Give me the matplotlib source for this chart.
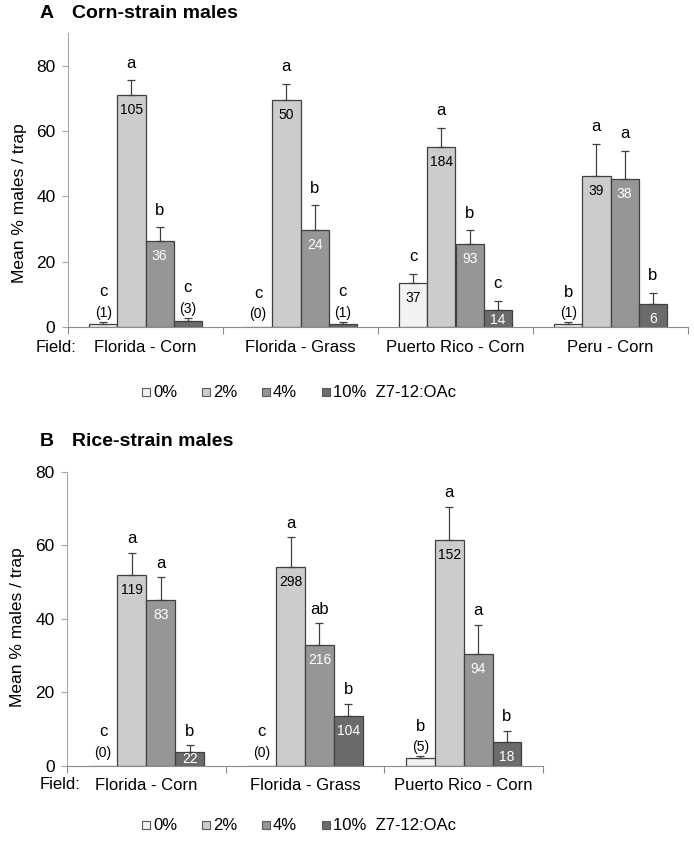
import numpy as np
import matplotlib
matplotlib.use('Agg')
import matplotlib.pyplot as plt
from matplotlib.lines import Line2D

plt.rcParams['font.family'] = ['Liberation Sans', 'DejaVu Sans']

doses = ['0%', '2%', '4%', '10%']
dose_colors = ['#f2f2f2', '#cccccc', '#969696', '#6b6b6b']
count_colors = ['black', 'black', 'white', 'white']
edge = '#404040'

# A: corn-strain males
fields_a = ['Florida - Corn', 'Florida - Grass', 'Puerto Rico - Corn', 'Peru - Corn']
mean_a_0 = [1.0, 0.0, 13.5, 0.8]
mean_a_2 = [71.0, 69.6, 55.1, 46.2]
mean_a_4 = [26.3, 29.6, 25.4, 45.3]
mean_a_10 = [1.9, 0.9, 5.3, 6.9]
err_a_0 = [0.6, 0.0, 2.8, 0.7]
err_a_2 = [4.5, 4.9, 5.9, 9.9]
err_a_4 = [4.3, 7.6, 4.2, 8.6]
err_a_10 = [0.9, 0.7, 2.8, 3.6]
n_a_0 = ['(1)', '(0)', '37', '(1)']
n_a_2 = ['105', '50', '184', '39']
n_a_4 = ['36', '24', '93', '38']
n_a_10 = ['(3)', '(1)', '14', '6']
let_a_0 = ['c', 'c', 'c', 'b']
let_a_2 = ['a', 'a', 'a', 'a']
let_a_4 = ['b', 'b', 'b', 'a']
let_a_10 = ['c', 'c', 'c', 'b']

# B: rice-strain males
fields_b = ['Florida - Corn', 'Florida - Grass', 'Puerto Rico - Corn']
mean_b_0 = [0.0, 0.0, 2.0]
mean_b_2 = [51.8, 54.2, 61.5]
mean_b_4 = [45.1, 32.9, 30.4]
mean_b_10 = [3.65, 13.4, 6.5]
err_b_0 = [0.0, 0.0, 0.6]
err_b_2 = [6.1, 8.0, 8.9]
err_b_4 = [6.2, 5.9, 7.9]
err_b_10 = [1.95, 3.4, 3.0]
n_b_0 = ['(0)', '(0)', '(5)']
n_b_2 = ['119', '298', '152']
n_b_4 = ['83', '216', '94']
n_b_10 = ['22', '104', '18']
let_b_0 = ['c', 'c', 'b']
let_b_2 = ['a', 'a', 'a']
let_b_4 = ['a', 'ab', 'a']
let_b_10 = ['b', 'b', 'b']

compound = 'Z7-12:OAc'

W, H = 694, 843
fig = plt.figure(figsize=(W / 100, H / 100), dpi=100)


def draw_panel(ax, fields, means, errs, counts, letters, ymax, letter_gap, ylab_y, field_xy):
    n = len(fields)
    x = np.arange(n) + 0.5
    w = 0.182
    ax.set_xlim(0, n)
    ax.set_ylim(0, ymax)
    ppu = ax.bbox.height / ymax
    for j in range(4):
        xs = x + (j - 1.5) * w
        ax.bar(xs, means[j], w, color=dose_colors[j], edgecolor=edge, linewidth=0.9, zorder=2)
        for i in range(n):
            m, e = means[j][i], errs[j][i]
            if e > 0:
                ax.errorbar([xs[i]], [m], yerr=[[0], [e]], fmt='none', ecolor=edge,
                            elinewidth=0.9, capsize=2.8, capthick=0.9, zorder=3)
            top_px = (m + e) * ppu
            lab = counts[j][i]
            if lab.startswith('('):
                lab_px = max(top_px + 9, 13)
                ax.annotate(lab, (xs[i], 0), xytext=(0, lab_px), textcoords='offset pixels',
                            ha='center', va='center', fontsize=10)
                let_px = lab_px + 21
            else:
                in_px = max(m * ppu - 15, 7)
                ax.annotate(lab, (xs[i], 0), xytext=(0, in_px), textcoords='offset pixels',
                            ha='center', va='center', fontsize=10, color=count_colors[j])
                let_px = top_px + letter_gap
            ax.annotate(letters[j][i], (xs[i], 0), xytext=(0, let_px), textcoords='offset pixels',
                        ha='center', va='center', fontsize=12)

    for s in ['top', 'right']:
        ax.spines[s].set_visible(False)
    ax.spines['left'].set_color('#a6a6a6')
    ax.spines['bottom'].set_color('#8c8c8c')
    ax.set_xticks(np.arange(n + 1))
    ax.set_xticklabels([])
    ax.tick_params(axis='x', which='major', length=5, color='#8c8c8c', direction='out')
    ax.set_xticks(x, minor=True)
    ax.set_xticklabels(fields, minor=True, fontsize=12)
    ax.tick_params(axis='x', which='minor', length=0, pad=9)
    ax.set_yticks([0, 20, 40, 60, 80])
    ax.tick_params(axis='y', length=4, color='#a6a6a6', labelsize=12.5, pad=5)
    ax.set_ylabel('Mean % males / trap', fontsize=12.5, va='center')
    ax.yaxis.set_label_coords(ylab_y[0], ylab_y[1])
    ax.annotate('Field:', (0, 0), xycoords='axes fraction', xytext=field_xy,
                textcoords='offset pixels', ha='left', va='center', fontsize=12)


def add_legend(y):
    handles = [Line2D([], [], linestyle='none', marker='s', markersize=5.5,
                      markerfacecolor=c, markeredgecolor='#595959', markeredgewidth=0.8)
               for c in dose_colors]
    labels = doses[:-1] + [doses[-1] + '  ' + compound]
    fig.legend(handles, labels, loc='center', bbox_to_anchor=(299 / W, y),
               ncol=4, frameon=False, fontsize=12, handlelength=0.45, handletextpad=0.2,
               columnspacing=1.5, borderaxespad=0, borderpad=0)


ax_a = fig.add_axes([68 / W, 1 - 327 / H, 620 / W, 294 / H])
draw_panel(ax_a, fields_a,
           [mean_a_0, mean_a_2, mean_a_4, mean_a_10],
           [err_a_0, err_a_2, err_a_4, err_a_10],
           [n_a_0, n_a_2, n_a_4, n_a_10],
           [let_a_0, let_a_2, let_a_4, let_a_10],
           90, 17, (-48 / 620, 0.42), (-32, -21))
add_legend(1 - 393 / H)

ax_b = fig.add_axes([67 / W, 1 - 765.7 / H, 476 / W, 294 / H])
draw_panel(ax_b, fields_b,
           [mean_b_0, mean_b_2, mean_b_4, mean_b_10],
           [err_b_0, err_b_2, err_b_4, err_b_10],
           [n_b_0, n_b_2, n_b_4, n_b_10],
           [let_b_0, let_b_2, let_b_4, let_b_10],
           80, 14, (-49 / 476, 0.47), (-27, -19))
add_legend(1 - 826 / H)

fig.text(40 / W, 1 - 13 / H, 'A', fontsize=14, weight='bold', va='center')
fig.text(72 / W, 1 - 13 / H, 'Corn-strain males', fontsize=14, weight='bold', va='center')
fig.text(40 / W, 1 - 442 / H, 'B', fontsize=14, weight='bold', va='center')
fig.text(72 / W, 1 - 442 / H, 'Rice-strain males', fontsize=14, weight='bold', va='center')

fig.savefig('out.png', dpi=100)
